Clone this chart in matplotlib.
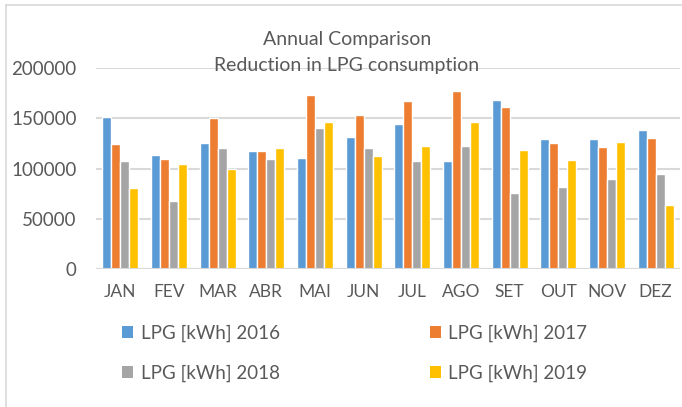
import matplotlib
matplotlib.use("Agg")
import matplotlib.pyplot as plt
import numpy as np
from matplotlib.lines import Line2D
from matplotlib.patches import Patch

months = ["JAN", "FEV", "MAR", "ABR", "MAI", "JUN", "JUL", "AGO", "SET", "OUT", "NOV", "DEZ"]
lpg_2016 = [151000, 113000, 125000, 117000, 110700, 131700, 144300, 107700, 168000, 129700, 129000, 138700]
lpg_2017 = [124000, 109000, 150000, 117000, 172700, 153000, 167300, 177000, 160700, 125700, 121700, 130000]
lpg_2018 = [107000, 67500, 120000, 109000, 140300, 120300, 107300, 122700, 76000, 81700, 89700, 95000]
lpg_2019 = [81000, 104000, 100000, 120000, 146000, 112300, 122300, 146000, 118700, 108000, 126000, 63300]
series_labels = ["LPG [kWh] 2016", "LPG [kWh] 2017", "LPG [kWh] 2018", "LPG [kWh] 2019"]
yticks = [0, 50000, 100000, 150000, 200000]

colors = ["#5B9BD5", "#ED7D31", "#A5A5A5", "#FFC000"]
text_color = "#595959"
plt.rcParams["font.family"] = ["Lato", "DejaVu Sans"]

W, H = 682, 407
fig = plt.figure(figsize=(W / 100, H / 100), dpi=100)
ax = fig.add_axes([96 / W, 1 - 269 / H, (680 - 96) / W, (269 - 68) / H])

x = np.arange(len(months))
step = 0.185
width = 0.185
data = [lpg_2016, lpg_2017, lpg_2018, lpg_2019]
for i, (vals, c) in enumerate(zip(data, colors)):
    ax.bar(x + (i - 1.5) * step, vals, width=width, color=c, edgecolor="white",
           linewidth=1.0, zorder=3)

ax.set_xlim(-0.5, len(months) - 0.5)
ax.set_ylim(0, 200000)
ax.set_yticks(yticks)
ax.set_yticklabels([str(v) for v in yticks])
ax.set_xticks(x)
ax.set_xticklabels(months)
ax.tick_params(axis="y", length=0, pad=14, labelsize=13.5, labelcolor=text_color)
ax.tick_params(axis="x", length=0, pad=11, labelsize=12.5, labelcolor=text_color)
ax.grid(axis="y", color="#D9D9D9", linewidth=1.5, zorder=0)
ax.set_axisbelow(True)
for s in ax.spines.values():
    s.set_visible(False)
ax.axhline(0, color="#D9D9D9", linewidth=1.5, zorder=4)

fig.text(347 / W, 1 - 40 / H, "Annual Comparison", ha="center", va="center",
         fontsize=14, color=text_color)
fig.text(347 / W, 1 - 65 / H, "Reduction in LPG consumption", ha="center", va="center",
         fontsize=14, color=text_color)

# Legend filled row-wise: reorder for column-major filling
order = [0, 2, 1, 3]
handles = [Patch(facecolor=colors[i], edgecolor="none") for i in order]
labels = [series_labels[i] for i in order]
fig.legend(handles, labels, ncol=2, loc="upper left",
           bbox_to_anchor=(105 / W, 1 - 308 / H), frameon=False,
           fontsize=13.5, labelcolor=text_color, handlelength=0.6, handleheight=0.6,
           handletextpad=0.4, columnspacing=8.0, labelspacing=1.2)

# chart border (left and top)
fig.add_artist(Line2D([6 / W, 6 / W], [0, 1 - 5 / H], color="#D9D9D9", linewidth=1.2))
fig.add_artist(Line2D([6 / W, 1], [1 - 5 / H, 1 - 5 / H], color="#D9D9D9", linewidth=1.2))

fig.savefig("out.png", dpi=100, facecolor="white")
